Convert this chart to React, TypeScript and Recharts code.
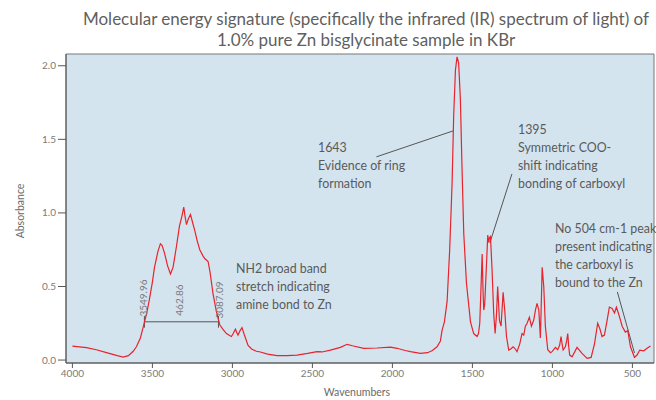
import { LineChart, Line, XAxis, YAxis, ReferenceArea, ReferenceLine } from 'recharts';

// IR spectrum
const wavenumbers = [
  4000, 3912, 3850, 3787, 3720, 3683, 3650, 3620, 3600, 3575, 3556, 3535, 3519, 3500, 3487, 3465, 3450, 3440,
  3425, 3405, 3387, 3371, 3350, 3331, 3315, 3304, 3295, 3287, 3275, 3262, 3250, 3235, 3220, 3204, 3185, 3173,
  3152, 3140, 3121, 3100, 3079, 3060, 3037, 3015, 3006, 2995, 2981, 2972, 2965, 2952, 2940, 2925, 2902, 2880,
  2850, 2825, 2780, 2721, 2660, 2596, 2530, 2471, 2440, 2387, 2325, 2283, 2250, 2179, 2096, 2012, 1971, 1920,
  1887, 1825, 1780, 1750, 1721, 1700, 1690, 1675, 1658, 1642, 1627, 1617, 1606, 1596, 1586, 1575, 1565, 1554,
  1537, 1512, 1492, 1471, 1462, 1454, 1446, 1439, 1433, 1429, 1423, 1412, 1404, 1398, 1394, 1387, 1377, 1367,
  1358, 1350, 1342, 1331, 1321, 1308, 1298, 1287, 1273, 1260, 1246, 1235, 1221, 1204, 1190, 1179, 1169, 1158,
  1144, 1131, 1117, 1106, 1096, 1085, 1075, 1068, 1064, 1054, 1044, 1029, 1012, 1002, 981, 967, 955, 946, 938,
  933, 919, 911, 904, 898, 892, 877, 846, 815, 783, 758, 737, 717, 704, 690, 675, 658, 644, 627, 612, 600, 585,
  564, 544, 529, 512, 487, 471, 454, 429, 408, 387,
];
const absorbance = [
  0.095, 0.085, 0.07, 0.05, 0.03, 0.02, 0.03, 0.06, 0.09, 0.15, 0.23, 0.32, 0.41, 0.53, 0.63, 0.74, 0.79, 0.78,
  0.73, 0.64, 0.585, 0.63, 0.77, 0.91, 0.98, 1.04, 0.97, 0.92, 0.96, 0.99, 0.94, 0.88, 0.81, 0.75, 0.71, 0.69,
  0.67, 0.6, 0.45, 0.33, 0.24, 0.21, 0.18, 0.165, 0.16, 0.18, 0.21, 0.185, 0.17, 0.2, 0.22, 0.17, 0.1, 0.075,
  0.06, 0.055, 0.04, 0.03, 0.03, 0.034, 0.045, 0.057, 0.055, 0.068, 0.086, 0.107, 0.097, 0.08, 0.082, 0.088, 0.08, 0.065,
  0.057, 0.045, 0.05, 0.065, 0.09, 0.13, 0.2, 0.26, 0.4, 0.75, 1.2, 1.66, 1.97, 2.06, 2.02, 1.77, 1.31, 0.86,
  0.52, 0.26, 0.18, 0.16, 0.18, 0.25, 0.5, 0.72, 0.45, 0.34, 0.38, 0.65, 0.85, 0.8, 0.83, 0.84, 0.61, 0.32,
  0.18, 0.3, 0.5, 0.27, 0.23, 0.46, 0.34, 0.16, 0.068, 0.075, 0.09, 0.08, 0.057, 0.11, 0.18, 0.17, 0.23, 0.25,
  0.29, 0.23, 0.27, 0.34, 0.385, 0.34, 0.15, 0.45, 0.63, 0.5, 0.23, 0.07, 0.05, 0.057, 0.086, 0.07, 0.1, 0.16, 0.1,
  0.068, 0.09, 0.13, 0.18, 0.09, 0.034, 0.022, 0.086, 0.045, 0.011, 0.018, 0.11, 0.25, 0.215, 0.16, 0.17, 0.27, 0.36, 0.35, 0.32, 0.36, 0.31,
  0.23, 0.19, 0.2, 0.09, 0.018, 0.034, 0.068, 0.063, 0.08, 0.095,
];

const xTicks = [4000, 3500, 3000, 2500, 2000, 1500, 1000, 500];
const yTicks = [0, 0.5, 1, 1.5, 2];

// half-height width bracket of the NH2 band
const bandStart = 3549.96;
const bandEnd = 3087.09;
const bandLevel = 0.26;
const bandLabels = ['3549.96', '462.86', '3087.09'];

const titleLines = [
  'Molecular energy signature (specifically the infrared (IR) spectrum of light) of',
  '1.0% pure Zn bisglycinate sample in KBr',
];
const nh2Note = ['NH2 broad band', 'stretch indicating', 'amine bond to Zn'];
const ringNote = ['1643', 'Evidence of ring', 'formation'];
const cooNote = ['1395', 'Symmetric COO-', 'shift indicating', 'bonding of carboxyl'];
const znNote = ['No 504 cm-1 peak', 'present indicating', 'the carboxyl is', 'bound to the Zn'];

const data = wavenumbers.map((w, i) => ({ w, a: absorbance[i] }));

const FONT = 'Lato, "Open Sans", sans-serif';
const TEXT = '#5a5a5a';
const AXIS = '#555';

function Note({ lines, x, y, step = 18 }: { lines: string[]; x: number; y: number; step?: number }) {
  return (
    <text x={x} y={y} fill={TEXT} fontSize={12.4} fontFamily={FONT}>
      {lines.map((l, i) => (
        <tspan key={i} x={x} dy={i === 0 ? 0 : step}>
          {l}
        </tspan>
      ))}
    </text>
  );
}

function RotLabel({ x, y, text }: { x: number; y: number; text: string }) {
  return (
    <text
      x={x}
      y={y}
      fill="#7a7a7a"
      fontSize={10}
      fontFamily={FONT}
      textAnchor="middle"
      dominantBaseline="central"
      transform={`rotate(-90 ${x} ${y})`}
    >
      {text}
    </text>
  );
}

export default function App() {
  return (
    <div style={{ position: 'absolute', left: 0, top: 0, width: 656, height: 400, background: '#fff' }}>
      <LineChart width={656} height={400} data={data} margin={{ top: 54, right: 2, bottom: 17, left: 0 }}>
        <ReferenceArea x1={365} x2={4040} y1={-0.02} y2={2.08} fill="#d4e4ef" fillOpacity={1} stroke="#777" />
        <XAxis
          dataKey="w"
          type="number"
          domain={[365, 4040]}
          reversed
          ticks={xTicks}
          height={20}
          tickSize={5}
          tick={{ fill: '#7a7a7a', fontSize: 10, fontFamily: FONT }}
          stroke={AXIS}
          allowDataOverflow
        />
        <YAxis
          type="number"
          domain={[-0.02, 2.08]}
          ticks={yTicks}
          width={66}
          tickSize={8}
          tickFormatter={(v: number) => v.toFixed(1)}
          tick={{ fill: '#7a7a7a', fontSize: 10, fontFamily: FONT }}
          stroke={AXIS}
          allowDataOverflow
        />
        <ReferenceLine segment={[{ x: bandStart, y: bandLevel }, { x: bandEnd, y: bandLevel }]} stroke="#555" />
        <ReferenceLine segment={[{ x: bandStart, y: 0.22 }, { x: bandStart, y: 0.3 }]} stroke="#555" />
        <ReferenceLine segment={[{ x: bandEnd, y: 0.22 }, { x: bandEnd, y: 0.3 }]} stroke="#555" />
        <ReferenceLine segment={[{ x: 2100, y: 1.381 }, { x: 1619, y: 1.558 }]} stroke="#555" />
        <ReferenceLine segment={[{ x: 1253, y: 1.265 }, { x: 1391, y: 0.796 }]} stroke="#555" />
        <ReferenceLine segment={[{ x: 594, y: 0.463 }, { x: 487, y: 0.048 }]} stroke="#555" />
        <Line
          dataKey="a"
          type="linear"
          stroke="#e8232b"
          strokeWidth={1.2}
          dot={false}
          isAnimationActive={false}
        />
      </LineChart>
      <svg width={656} height={400} style={{ position: 'absolute', left: 0, top: 0, pointerEvents: 'none' }}>
        {titleLines.map((t, i) => (
          <text key={i} x={366} y={25 + i * 21} fill="#5f5f5f" fontSize={17} fontFamily={FONT} textAnchor="middle">
            {t}
          </text>
        ))}
        <text
          x={24}
          y={211}
          fill="#6a6a6a"
          fontSize={10.5}
          fontFamily={FONT}
          textAnchor="middle"
          transform="rotate(-90 24 211)"
        >
          Absorbance
        </text>
        <text x={357} y={396} fill="#6a6a6a" fontSize={10.5} fontFamily={FONT} textAnchor="middle">
          Wavenumbers
        </text>
        <RotLabel x={143} y={298} text={bandLabels[0]} />
        <RotLabel x={179} y={300} text={bandLabels[1]} />
        <RotLabel x={219} y={300} text={bandLabels[2]} />
        <Note lines={nh2Note} x={236} y={273} />
        <Note lines={ringNote} x={318} y={152} />
        <Note lines={cooNote} x={518} y={134} />
        <Note lines={znNote} x={555} y={233} />
      </svg>
    </div>
  );
}
